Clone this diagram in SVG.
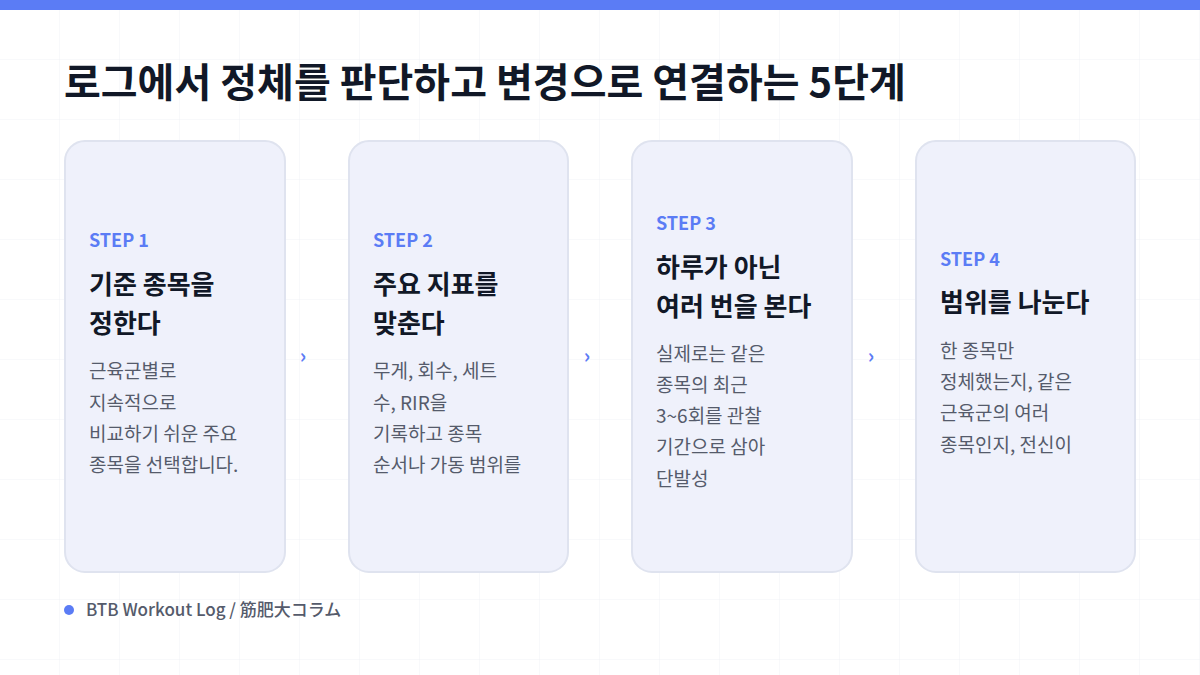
<svg xmlns="http://www.w3.org/2000/svg" width="1200" height="675" viewBox="0 0 1200 675">
<defs>
<pattern id="grid" width="60" height="60" patternUnits="userSpaceOnUse" x="0" y="0">
<path d="M60 0V60H0" fill="none" stroke="#f1f2f6" stroke-width="1"/>
</pattern>
</defs>
<style>
text{font-family:"Noto Sans CJK KR","Noto Sans",sans-serif}
.card{fill:#eff1fb;stroke:#dfe3ef;stroke-width:2}
.step{font-size:18px;font-weight:700;fill:#5b7cf5}
.ttl{font-size:26px;font-weight:700;fill:#111827}
.body{font-size:19px;fill:#555b6b}
.arr{font-size:20px;font-weight:700;fill:#5b7cf5}
</style>
<rect width="1200" height="675" fill="#ffffff"/>
<rect width="1200" height="675" fill="url(#grid)"/>
<rect width="1200" height="10" fill="#5b7cf5"/>
<text x="64" y="97" font-size="40" font-weight="700" fill="#111827">로그에서 정체를 판단하고 변경으로 연결하는 5단계</text>
<g id="step1">
<rect class="card" x="65" y="141" width="220" height="431" rx="20"/>
<text class="step" x="89" y="247">STEP 1</text>
<text class="ttl" x="89" y="294">기준 종목을</text>
<text class="ttl" x="89" y="333">정한다</text>
<text class="body" x="89" y="378">근육군별로</text>
<text class="body" x="89" y="410">지속적으로</text>
<text class="body" x="89" y="441">비교하기 쉬운 주요</text>
<text class="body" x="89" y="472">종목을 선택합니다.</text>
</g>
<g id="step2">
<rect class="card" x="349" y="141" width="219" height="431" rx="20"/>
<text class="step" x="373" y="247">STEP 2</text>
<text class="ttl" x="373" y="294">주요 지표를</text>
<text class="ttl" x="373" y="333">맞춘다</text>
<text class="body" x="373" y="378">무게, 회수, 세트</text>
<text class="body" x="373" y="410">수, RIR을</text>
<text class="body" x="373" y="441">기록하고 종목</text>
<text class="body" x="373" y="472">순서나 가동 범위를</text>
</g>
<g id="step3">
<rect class="card" x="632" y="141" width="220" height="431" rx="20"/>
<text class="step" x="656" y="230">STEP 3</text>
<text class="ttl" x="656" y="277">하루가 아닌</text>
<text class="ttl" x="656" y="316">여러 번을 본다</text>
<text class="body" x="656" y="361">실제로는 같은</text>
<text class="body" x="656" y="392">종목의 최근</text>
<text class="body" x="656" y="423">3~6회를 관찰</text>
<text class="body" x="656" y="454">기간으로 삼아</text>
<text class="body" x="656" y="486">단발성</text>
</g>
<g id="step4">
<rect class="card" x="916" y="141" width="219" height="431" rx="20"/>
<text class="step" x="940" y="266">STEP 4</text>
<text class="ttl" x="940" y="312">범위를 나눈다</text>
<text class="body" x="940" y="358">한 종목만</text>
<text class="body" x="940" y="389">정체했는지, 같은</text>
<text class="body" x="940" y="420">근육군의 여러</text>
<text class="body" x="940" y="452">종목인지, 전신이</text>
</g>
<g id="connectors">
<text class="arr" x="303" y="363" text-anchor="middle">›</text>
<text class="arr" x="587" y="363" text-anchor="middle">›</text>
<text class="arr" x="871" y="363" text-anchor="middle">›</text>
</g>
<g id="footer">
<circle cx="69" cy="610" r="5" fill="#5b7cf5"/>
<text x="86" y="616" font-size="17" fill="#555b6b" font-weight="500">BTB Workout Log  /  筋肥大コラム</text>
</g>
</svg>
